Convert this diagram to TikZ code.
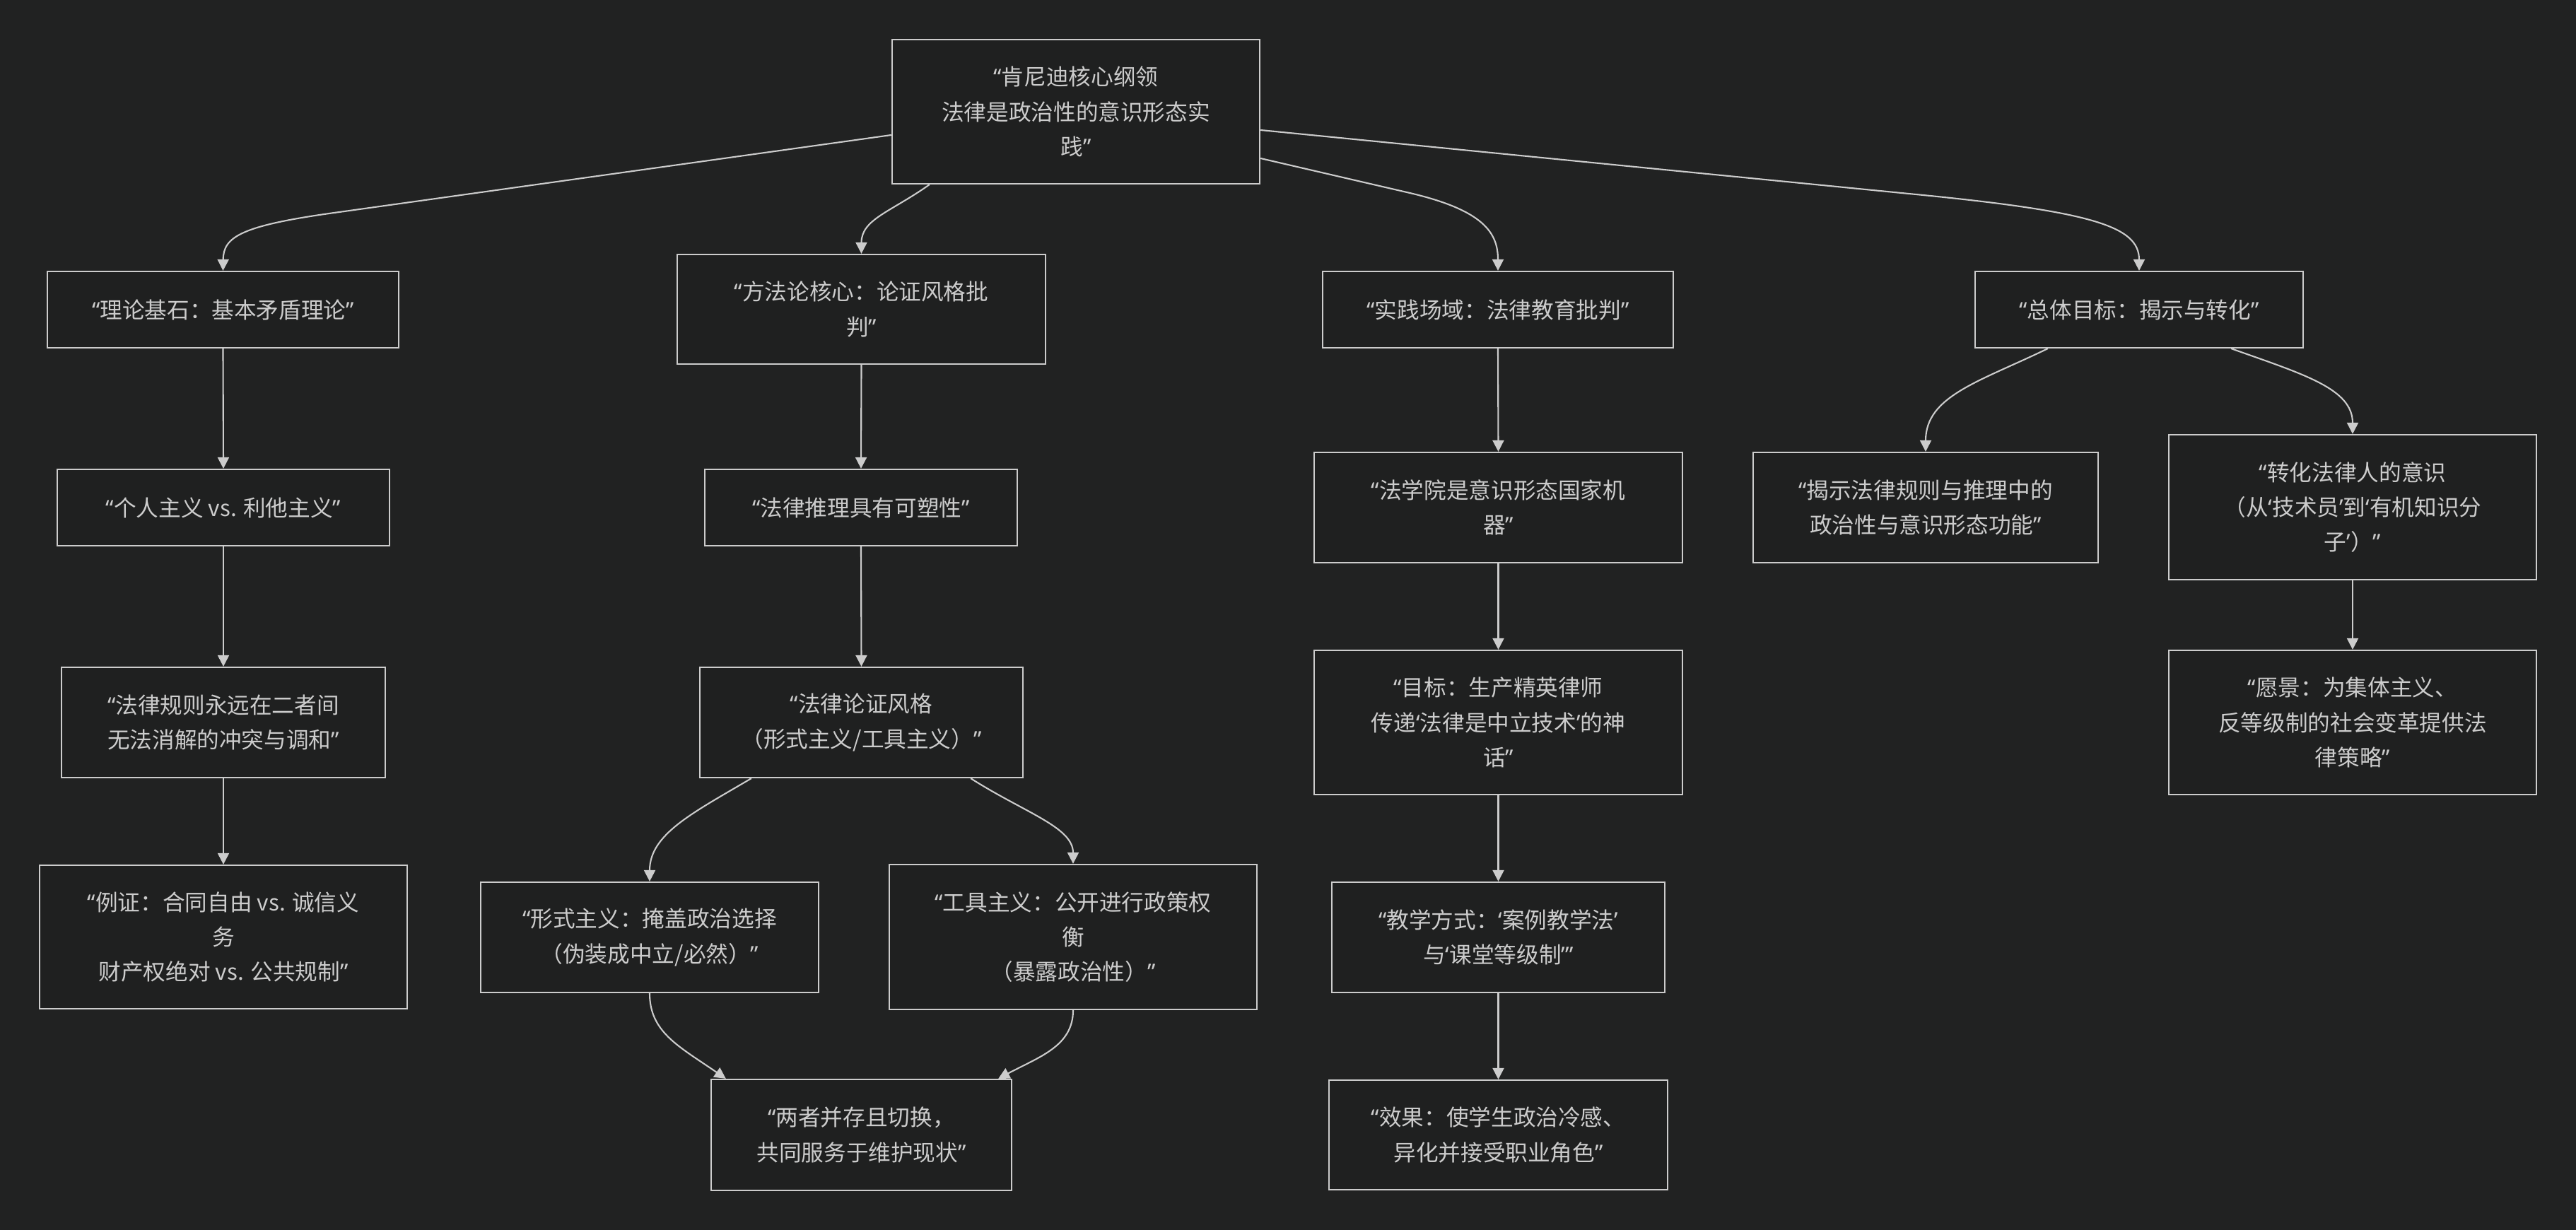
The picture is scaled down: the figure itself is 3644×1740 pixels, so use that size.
\documentclass[tikz,border=0pt]{standalone}
\usepackage{fontspec}
\setmainfont{Noto Sans CJK SC}
\newfontfamily\latf{Noto Sans}
\usetikzlibrary{arrows.meta,calc}
\definecolor{bgc}{HTML}{212222}
\definecolor{boxfill}{HTML}{1F2020}
\definecolor{linec}{HTML}{CCCCCC}
\newcommand\qL{{\latf “}}
\newcommand\qR{{\latf ”}}
\newcommand\sL{{\latf ‘}}
\newcommand\sR{{\latf ’}}
\tikzset{
  box/.style={draw=linec, fill=boxfill, line width=0.6pt, text=linec, align=center,
    inner sep=0pt, font=\fontsize{9pt}{14pt}\selectfont},
  conn/.style={draw=linec, line width=0.6pt, -{Triangle[length=0.16cm,width=0.16cm]}}
}
\begin{document}
\begin{tikzpicture}[x=0.01cm,y=-0.01cm]
\fill[bgc] (0,0) rectangle (3644,1740);
\useasboundingbox (0,0) rectangle (3644,1740);

% top
\node[box, minimum width=5.20cm, minimum height=2.04cm] (top) at (1522,158)
  {\qL 肯尼迪核心纲领\\法律是政治性的意识形态实\\践\qR};

% column A
\node[box, minimum width=4.97cm, minimum height=1.08cm] (A1) at (315.5,438) {\qL 理论基石：基本矛盾理论\qR};
\node[box, minimum width=4.70cm, minimum height=1.08cm] (A2) at (316,718) {\qL 个人主义 vs. 利他主义\qR};
\node[box, minimum width=4.58cm, minimum height=1.56cm] (A3) at (316,1022) {\qL 法律规则永远在二者间\\无法消解的冲突与调和\qR};
\node[box, minimum width=5.20cm, minimum height=2.03cm] (A4) at (316,1325.5) {\qL 例证：合同自由 vs. 诚信义\\务\\财产权绝对 vs. 公共规制\qR};

% column B
\node[box, minimum width=5.21cm, minimum height=1.55cm] (B1) at (1218.5,437.5) {\qL 方法论核心：论证风格批\\判\qR};
\node[box, minimum width=4.42cm, minimum height=1.08cm] (B2) at (1218,718) {\qL 法律推理具有可塑性\qR};
\node[box, minimum width=4.57cm, minimum height=1.56cm] (B3) at (1218.5,1022) {\qL 法律论证风格\\（形式主义/工具主义）\qR};
\node[box, minimum width=4.78cm, minimum height=1.56cm] (B4) at (919,1326) {\qL 形式主义：掩盖政治选择\\（伪装成中立/必然）\qR};
\node[box, minimum width=5.20cm, minimum height=2.05cm] (B5) at (1518,1325.5) {\qL 工具主义：公开进行政策权\\衡\\（暴露政治性）\qR};
\node[box, minimum width=4.25cm, minimum height=1.57cm] (B6) at (1218.5,1605.5) {\qL 两者并存且切换，\\共同服务于维护现状\qR};

% column C
\node[box, minimum width=4.96cm, minimum height=1.08cm] (C1) at (2119,438) {\qL 实践场域：法律教育批判\qR};
\node[box, minimum width=5.21cm, minimum height=1.56cm] (C2) at (2119.5,718) {\qL 法学院是意识形态国家机\\器\qR};
\node[box, minimum width=5.21cm, minimum height=2.04cm] (C3) at (2119.5,1022) {\qL 目标：生产精英律师\\传递\sL 法律是中立技术\sR 的神\\话\qR};
\node[box, minimum width=4.71cm, minimum height=1.56cm] (C4) at (2119.5,1326) {\qL 教学方式：\sL 案例教学法\sR\\与\sL 课堂等级制\sR\qR};
\node[box, minimum width=4.79cm, minimum height=1.55cm] (C5) at (2119.5,1605.5) {\qL 效果：使学生政治冷感、\\异化并接受职业角色\qR};

% column D
\node[box, minimum width=4.64cm, minimum height=1.08cm] (D1) at (3026,438) {\qL 总体目标：揭示与转化\qR};
\node[box, minimum width=4.88cm, minimum height=1.56cm] (D2) at (2724,718) {\qL 揭示法律规则与推理中的\\政治性与意识形态功能\qR};
\node[box, minimum width=5.20cm, minimum height=2.05cm] (D3) at (3328,717.5) {\qL 转化法律人的意识\\（从\sL 技术员\sR 到\sL 有机知识分\\子\sR）\qR};
\node[box, minimum width=5.20cm, minimum height=2.04cm] (D4) at (3328,1022) {\qL 愿景：为集体主义、\\反等级制的社会变革提供法\\律策略\qR};

% connectors from top
\draw[conn] ($(top.west)+(0,33)$) -- (480,300) .. controls (340,319) and (316,335) .. (A1.north);
\draw[conn] ($(top.south west)+(54,0)$) .. controls (1260,300) and (1218.5,310) .. (B1.north);
\draw[conn] ($(top.east)+(0,66)$) -- (1990,272) .. controls (2100,297) and (2119,330) .. (C1.north);
\draw[conn] ($(top.east)+(0,26)$) -- (2700,274) .. controls (2960,299) and (3026,320) .. (D1.north);

% column A
\draw[conn] (A1.south) -- (A2.north);
\draw[conn] (A2.south) -- (A3.north);
\draw[conn] (A3.south) -- (A4.north);

% column B
\draw[conn] (B1.south) -- (B2.north);
\draw[conn] (B2.south) -- (B3.north);
\draw[conn] ($(B3.south west)+(74,0)$) .. controls (980,1150) and (919,1180) .. (B4.north);
\draw[conn] ($(B3.south east)+(-75,0)$) .. controls (1450,1150) and (1518,1170) .. (B5.north);
\draw[conn] (B4.south) .. controls (919,1460) and (960,1480) .. ($(B6.north west)+(22,0)$);
\draw[conn] (B5.south) .. controls (1518,1480) and (1470,1495) .. ($(B6.north east)+(-20,0)$);

% column C
\draw[conn] (C1.south) -- (C2.north);
\draw[conn] (C2.south) -- (C3.north);
\draw[conn] (C3.south) -- (C4.north);
\draw[conn] (C4.south) -- (C5.north);

% column D
\draw[conn] ($(D1.south west)+(104,0)$) .. controls (2800,540) and (2724,560) .. (D2.north);
\draw[conn] ($(D1.south east)+(-103,0)$) .. controls (3260,530) and (3328,550) .. (D3.north);
\draw[conn] (D3.south) -- (D4.north);
\end{tikzpicture}
\end{document}
